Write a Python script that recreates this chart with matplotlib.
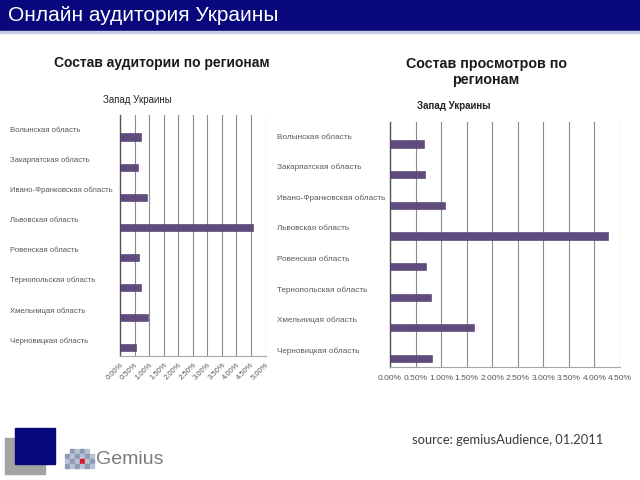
import matplotlib
matplotlib.use("Agg")
import matplotlib.pyplot as plt
import matplotlib.transforms as mtransforms
from matplotlib.patches import Rectangle

plt.rcParams['font.family'] = ['Liberation Sans', 'DejaVu Sans']

regions = ["Волынская область", "Закарпатская область", "Ивано-Франковская область",
           "Львовская область", "Ровенская область", "Тернопольская область",
           "Хмельницая область", "Черновицкая область"]
audience = [0.72, 0.63, 0.92, 4.56, 0.66, 0.72, 0.95, 0.54]
views = [0.66, 0.68, 1.07, 4.26, 0.70, 0.81, 1.65, 0.82]
left_ticks = [0.0, 0.5, 1.0, 1.5, 2.0, 2.5, 3.0, 3.5, 4.0, 4.5, 5.0]
right_ticks = [0.0, 0.5, 1.0, 1.5, 2.0, 2.5, 3.0, 3.5, 4.0, 4.5]

W, H = 640, 480
bar_color = "#5f4b7e"
grey_txt = "#595959"

fig = plt.figure(figsize=(6.4, 4.8), dpi=100)


def fx(px):
    return px / W


def fy(py):
    return 1 - py / H


# header band
fig.patches.append(Rectangle((0, fy(31)), 1, 31 / H, transform=fig.transFigure,
                             color="#08087c", zorder=0))
fig.patches.append(Rectangle((0, fy(33)), 1, 2 / H, transform=fig.transFigure,
                             color="#c9cde3", zorder=0))
fig.text(fx(8), fy(15.5), "Онлайн аудитория Украины", color="white", fontsize=15,
         va="center", ha="left")

# section headings
fig.text(fx(162), fy(63), "Состав аудитории по регионам", fontsize=10,
         fontweight="bold", ha="center", va="center", color="#1a1a1a")
fig.text(fx(486), fy(72), "Состав просмотров по\nрегионам", fontsize=10.3,
         fontweight="bold", ha="center", va="center", color="#1a1a1a",
         linespacing=1.2)


def draw_chart(rect, values, ticks, label_x, label_size, rotate, title_xy, bold_title):
    ax = fig.add_axes(rect)
    pos = list(range(len(regions)))
    ax.barh([p + 0.23 for p in pos], values, height=0.24, color=bar_color,
            edgecolor="#4a3a66", linewidth=0.4, zorder=3)
    ax.set_xlim(ticks[0], ticks[-1])
    ax.set_ylim(len(regions) - 0.5, -0.5)
    ax.set_xticks(ticks)
    ax.set_yticks([])
    ax.grid(axis="x", color="#8c8c8c", linewidth=0.8, zorder=1)
    ax.spines["top"].set_visible(False)
    ax.spines["right"].set_visible(False)
    ax.spines["left"].set_color("#555555")
    ax.spines["left"].set_linewidth(1.0)
    ax.spines["bottom"].set_color("#a6a6a6")
    ax.spines["bottom"].set_linewidth(0.8)
    ax.tick_params(axis="x", length=0, colors=grey_txt, labelsize=6 if not rotate else 5.5)
    if rotate:
        ax.set_xticklabels(["%.2f%%" % t for t in ticks], rotation=45,
                           ha="right", va="top", rotation_mode="anchor")
        ax.tick_params(axis="x", pad=4)
    else:
        ax.set_xticklabels(["%.2f%%" % t for t in ticks])
        ax.tick_params(axis="x", pad=6)
    trans = mtransforms.blended_transform_factory(fig.transFigure, ax.transData)
    for p, name in zip(pos, regions):
        ax.text(fx(label_x), p, name, transform=trans, ha="left", va="center",
                fontsize=label_size, color=grey_txt)
    fig.text(fx(title_xy[0]), fy(title_xy[1]), "Запад Украины", ha="center",
             va="center", fontsize=7, color="#262626",
             fontweight="bold" if bold_title else "normal")
    return ax


draw_chart([fx(120), fy(356), fx(265.6) - fx(120), (356 - 115) / H],
           audience, left_ticks, 10, 5.6, True, (137, 100), False)
draw_chart([fx(390), fy(366.7), fx(620) - fx(390), (366.7 - 121.7) / H],
           views, right_ticks, 277, 5.9, False, (454, 106), True)

# footer logo squares
fig.patches.append(Rectangle((fx(5), fy(474)), 40 / W, 36 / H, transform=fig.transFigure,
                             color="#a3a3a3", zorder=0))
fig.patches.append(Rectangle((fx(15), fy(464)), 40 / W, 36 / H, transform=fig.transFigure,
                             color="#08087c", zorder=1))

# gemius dots
dot_cols = [65, 70, 75, 80, 85, 90]
dot_rows = [449, 454, 459, 464]
for j, x in enumerate(dot_cols):
    for i, y in enumerate(dot_rows):
        if i == 0 and j in (0, 5):
            continue
        c = "#d8182a" if (j == 3 and i == 2) else ("#8e9bb4" if (i + j) % 2 else "#b9c2d3")
        fig.patches.append(Rectangle((fx(x), fy(y + 3.5)), 3.5 / W, 3.5 / H,
                                     transform=fig.transFigure, color=c, zorder=1))
fig.text(fx(96), fy(459), "Gemius", fontsize=14, color="#7a7a7a", ha="left",
         va="center", family=["Liberation Sans", "DejaVu Sans"])

fig.text(fx(412), fy(440), "source: gemiusAudience, 01.2011", fontsize=9.3,
         color="#3a3a3a", ha="left", va="center", family=["Lato", "DejaVu Sans"])

fig.savefig("out.png", dpi=100)
